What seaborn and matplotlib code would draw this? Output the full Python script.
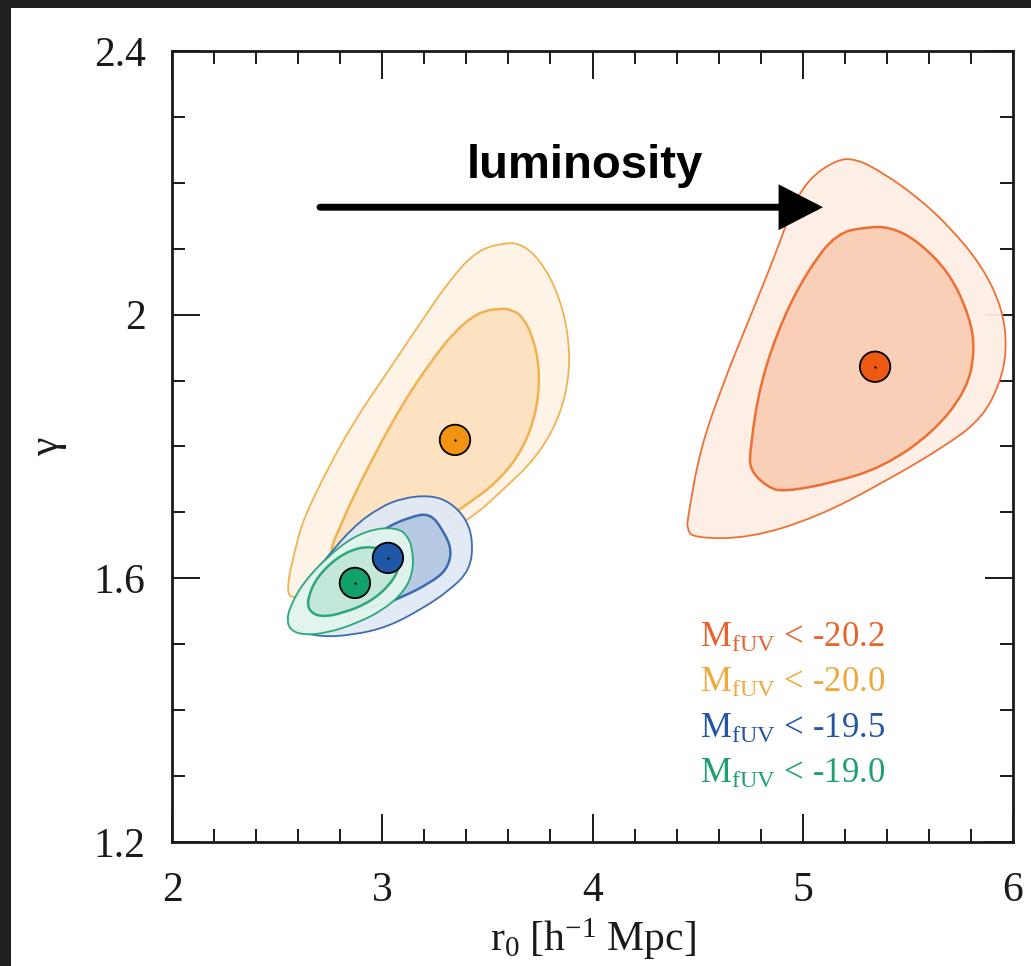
import numpy as np
import pandas as pd
import matplotlib
matplotlib.use("Agg")
import matplotlib.pyplot as plt
from matplotlib.path import Path
from matplotlib.patches import PathPatch, Rectangle
from matplotlib.ticker import MultipleLocator, FuncFormatter
import seaborn as sns

# ---------------- data ----------------
samples = ["-20.2", "-20.0", "-19.5", "-19.0"]
legend_labels = [r"M$_{\mathregular{fUV}}$ < -20.2", r"M$_{\mathregular{fUV}}$ < -20.0",
                 r"M$_{\mathregular{fUV}}$ < -19.5", r"M$_{\mathregular{fUV}}$ < -19.0"]
r0_best = [5.344, 3.346, 3.027, 2.870]
gamma_best = [1.921, 1.810, 1.631, 1.593]

# 1-sigma (inner) and 2-sigma (outer) confidence contours, (r0, gamma)
m202_outer_r0 = [5.163, 5.020, 4.939, 4.878, 4.749, 4.621, 4.511, 4.454, 4.449, 4.478, 4.749, 5.068,
                 5.382, 5.700, 5.857, 5.938, 5.971, 5.952, 5.857, 5.700, 5.543, 5.382, 5.258]
m202_outer_g = [2.236, 2.204, 2.154, 2.098, 1.996, 1.896, 1.795, 1.693, 1.676, 1.661, 1.661, 1.693,
                1.745, 1.805, 1.845, 1.896, 1.946, 2.007, 2.072, 2.133, 2.179, 2.215, 2.236]
m202_inner_r0 = [5.306, 5.163, 5.034, 4.906, 4.797, 4.749, 4.749, 4.830, 4.906, 5.144, 5.382, 5.620,
                 5.781, 5.819, 5.795, 5.700, 5.543, 5.415]
m202_inner_g = [2.133, 2.124, 2.072, 1.996, 1.896, 1.795, 1.764, 1.739, 1.731, 1.745, 1.769, 1.821,
                1.886, 1.946, 1.996, 2.063, 2.113, 2.133]

m200_outer_r0 = [3.593, 3.451, 3.322, 3.180, 3.023, 2.861, 2.737, 2.623, 2.585, 2.547, 2.561, 2.704,
                 3.084, 3.417, 3.574, 3.736, 3.845, 3.893, 3.883, 3.831, 3.750, 3.669]
m200_outer_g = [2.110, 2.098, 2.053, 1.987, 1.912, 1.836, 1.764, 1.689, 1.643, 1.590, 1.567, 1.579,
                1.628, 1.689, 1.734, 1.784, 1.845, 1.912, 1.977, 2.037, 2.083, 2.106]
m200_inner_r0 = [3.560, 3.451, 3.337, 3.227, 3.099, 2.975, 2.861, 2.799, 2.751, 2.775, 2.989, 3.227,
                 3.384, 3.546, 3.669, 3.736, 3.750, 3.717, 3.669, 3.622]
m200_inner_g = [2.010, 2.003, 1.972, 1.927, 1.866, 1.795, 1.723, 1.678, 1.643, 1.628, 1.635, 1.673,
                1.708, 1.745, 1.795, 1.855, 1.916, 1.966, 1.996, 2.007]

m195_outer_r0 = [3.227, 3.099, 2.989, 2.861, 2.737, 2.623, 2.561, 2.552, 2.576, 2.704, 2.861, 3.023,
                 3.180, 3.322, 3.417, 3.432, 3.403, 3.322]
m195_outer_g = [1.726, 1.722, 1.708, 1.678, 1.632, 1.587, 1.552, 1.537, 1.522, 1.511, 1.514, 1.526,
                1.552, 1.582, 1.613, 1.654, 1.689, 1.716]
m195_inner_r0 = [3.227, 3.132, 3.023, 2.894, 2.751, 2.680, 2.728, 2.861, 2.975, 3.099, 3.227, 3.308,
                 3.332, 3.289]
m195_inner_g = [1.699, 1.693, 1.678, 1.651, 1.613, 1.575, 1.552, 1.552, 1.557, 1.572, 1.593, 1.613,
                1.643, 1.673]

m190_outer_r0 = [3.070, 2.975, 2.861, 2.737, 2.623, 2.561, 2.547, 2.561, 2.623, 2.737, 2.880, 3.004,
                 3.099, 3.146, 3.146, 3.118]
m190_outer_g = [1.676, 1.676, 1.663, 1.632, 1.593, 1.557, 1.537, 1.522, 1.514, 1.517, 1.532, 1.552,
                1.578, 1.608, 1.643, 1.666]
m190_inner_r0 = [2.989, 2.894, 2.785, 2.690, 2.647, 2.647, 2.704, 2.813, 2.942, 3.037, 3.084, 3.070]
m190_inner_g = [1.646, 1.648, 1.632, 1.602, 1.572, 1.552, 1.541, 1.547, 1.564, 1.590, 1.617, 1.638]

x_ticks = [2, 3, 4, 5, 6]
y_ticks = [1.2, 1.6, 2.0, 2.4]

# ---------------- styles ----------------
line_colors = ["#EC6A2C", "#F0B04A", "#3565AC", "#22A574"]
outer_fills = ["#FDEEE5", "#FEF3E6", "#E1E9F5", "#E3F5EE"]
inner_fills = ["#F9CFB5", "#FCE2BE", "#B5C9E4", "#C2E7D8"]
dot_colors = ["#EE5A14", "#F39314", "#1F58A8", "#12A06A"]
text_colors = ["#E8642E", "#F0A83C", "#2455A4", "#1E9E72"]

sns.set_theme(style="ticks")
plt.rcParams["font.family"] = ["Liberation Serif", "DejaVu Serif"]
plt.rcParams["mathtext.fontset"] = "custom"
plt.rcParams["mathtext.rm"] = "Liberation Serif"
plt.rcParams["mathtext.it"] = "Liberation Serif:italic"

fig = plt.figure(figsize=(10.31, 9.66), dpi=100, facecolor="#212121")
bg = Rectangle((11 / 1031, 0), 1 - 11 / 1031, (966 - 8) / 966,
               transform=fig.transFigure, facecolor="white",
               edgecolor="none", zorder=-10)
fig.patches.append(bg)
ax = fig.add_axes([172 / 1031, 1 - 842 / 966, (1013 - 172) / 1031, (842 - 51) / 966])
ax.set_zorder(5)
ax.set_facecolor("white")


def closed_smooth_path(xs, ys):
    pts = np.column_stack([xs, ys])
    mids = (pts + np.roll(pts, -1, axis=0)) / 2.0
    verts = [mids[-1]]
    codes = [Path.MOVETO]
    for i in range(len(pts)):
        verts += [pts[i], mids[i]]
        codes += [Path.CURVE3, Path.CURVE3]
    verts.append(mids[-1])
    codes.append(Path.CLOSEPOLY)
    return Path(verts, codes)


contours = [
    (m202_outer_r0, m202_outer_g, m202_inner_r0, m202_inner_g),
    (m200_outer_r0, m200_outer_g, m200_inner_r0, m200_inner_g),
    (m195_outer_r0, m195_outer_g, m195_inner_r0, m195_inner_g),
    (m190_outer_r0, m190_outer_g, m190_inner_r0, m190_inner_g),
]
for k, (ox, oy, ix, iy) in enumerate(contours):
    z = 2 + 2 * k
    ax.add_patch(PathPatch(closed_smooth_path(ox, oy), facecolor=outer_fills[k],
                           edgecolor=line_colors[k], lw=1.3, alpha=0.95, zorder=z))
    ax.add_patch(PathPatch(closed_smooth_path(ix, iy), facecolor=inner_fills[k],
                           edgecolor=line_colors[k], lw=1.8, alpha=0.95, zorder=z + 1))

df = pd.DataFrame({"r0": r0_best, "gamma": gamma_best, "sample": samples})
sns.scatterplot(data=df, x="r0", y="gamma", hue="sample",
                palette=dict(zip(samples, dot_colors)), s=480,
                edgecolor="black", linewidth=1.3, legend=False, ax=ax, zorder=20)
sns.scatterplot(data=df, x="r0", y="gamma", color="black", s=3, linewidth=0,
                legend=False, ax=ax, zorder=21)

# luminosity arrow
ax.annotate("", xy=(5.096, 2.163), xytext=(2.704, 2.163),
            arrowprops=dict(arrowstyle="-|>,head_length=1.2,head_width=0.62",
                            mutation_scale=20, lw=5, color="black",
                            shrinkA=0, shrinkB=0, joinstyle="miter"),
            zorder=30)
ax.text(3.964, 2.207, "luminosity", ha="center", va="baseline",
        fontsize=34, fontweight="bold", family=["Liberation Sans", "DejaVu Sans"],
        color="black", zorder=30)

# legend texts
leg_y = [0.2465, 0.1896, 0.1315, 0.0746]
for lab, col, yy in zip(legend_labels, text_colors, leg_y):
    ax.text(0.628, yy, lab, transform=ax.transAxes, ha="left", va="baseline",
            fontsize=25, color=col, zorder=30)

# axes
ax.set_xlim(2, 6)
ax.set_ylim(1.2, 2.4)
ax.set_xticks(x_ticks)
ax.set_yticks(y_ticks)
ax.xaxis.set_minor_locator(MultipleLocator(0.2))
ax.yaxis.set_minor_locator(MultipleLocator(0.1))
fmt = FuncFormatter(lambda v, p: f"{v:g}")
ax.xaxis.set_major_formatter(fmt)
ax.yaxis.set_major_formatter(fmt)
ax.tick_params(which="both", direction="in", top=True, right=True,
               width=1.4, color="#1a1a1a", labelcolor="#1a1a1a")
ax.tick_params(which="major", length=20, labelsize=30)
ax.tick_params(which="minor", length=9.5)
ax.tick_params(axis="x", which="major", pad=21)
ax.tick_params(axis="y", which="major", pad=19)
for sp in ax.spines.values():
    sp.set_linewidth(2.0)
    sp.set_color("#1a1a1a")

ax.set_xlabel(r"$\mathregular{r_0\ [h^{-1}\ Mpc]}$", fontsize=30, color="#1a1a1a")
ax.set_ylabel("γ", fontsize=30, color="#1a1a1a")
ax.xaxis.set_label_coords(0.5, -0.094)
ax.yaxis.set_label_coords(-0.125, 0.5)

fig.savefig("out.png", dpi=100, facecolor=fig.get_facecolor())
